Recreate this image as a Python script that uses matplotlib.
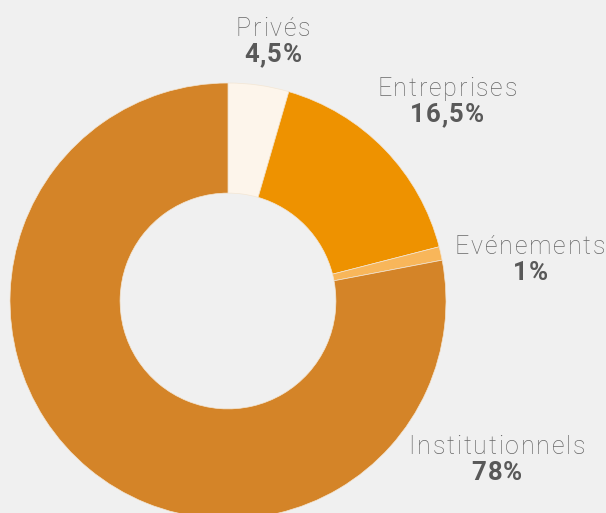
import matplotlib
matplotlib.use("Agg")
import matplotlib.pyplot as plt

categories = ["Privés", "Entreprises", "Evénements", "Institutionnels"]
values = [4.5, 16.5, 1, 78]
pct_labels = ["4,5%", "16,5%", "1%", "78%"]
colors = ["#fdf5eb", "#ee9200", "#f8b65a", "#d48428"]

W, H = 606, 513
fig = plt.figure(figsize=(W / 100, H / 100), dpi=100)
fig.patch.set_facecolor("#f0f0f0")

cx, cy, R = 228, 301, 218
ax = fig.add_axes([(cx - R) / W, (H - cy - R) / H, 2 * R / W, 2 * R / H])
ax.set_facecolor("none")
ax.pie(values, colors=colors, startangle=90, counterclock=False, radius=1,
       wedgeprops=dict(width=0.505, edgecolor="#f3e6d4", linewidth=0.5))
ax.set_xlim(-1, 1)
ax.set_ylim(-1, 1)
ax.set_aspect("equal")
ax.axis("off")

renderer = fig.canvas.get_renderer()


def text_width(s, **kw):
    t = fig.text(0, 0, s, **kw)
    w = t.get_window_extent(renderer).width
    t.remove()
    return w


def tracked_text(xc, ybase, s, track, **kw):
    """Draw text centred at pixel xc, baseline at pixel ybase (from top), with letter spacing."""
    lefts = []
    for i in range(len(s)):
        wp = text_width(s[:i + 1], **kw)
        wc = text_width(s[i], **kw)
        lefts.append(wp - wc + i * track)
    total = text_width(s, **kw) + (len(s) - 1) * track
    x0 = xc - total / 2
    for ch, l in zip(s, lefts):
        fig.text((x0 + l) / W, 1 - ybase / H, ch, ha="left", va="baseline", **kw)


name_style = dict(fontsize=18, family="Roboto", fontweight="light", color="#676767")
pct_style = dict(fontsize=18.5, family="Roboto", fontweight="bold", color="#595959")

label_x = [273, 447, 530, 497]
label_base = [36, 96, 254, 454]
for x, yb, name, pct in zip(label_x, label_base, categories, pct_labels):
    tracked_text(x, yb, name, 1.8, **name_style)
    tracked_text(x, yb + 26, pct, 0.9, **pct_style)

fig.savefig("out.png", dpi=100, facecolor=fig.get_facecolor())
